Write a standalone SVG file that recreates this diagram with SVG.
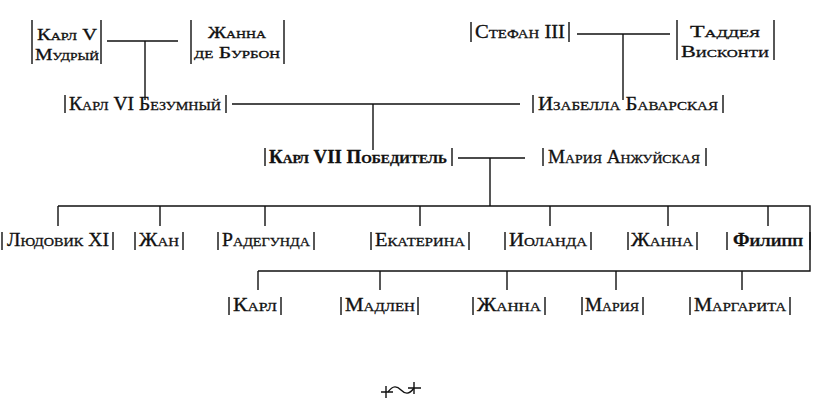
<svg xmlns="http://www.w3.org/2000/svg" width="818" height="403" viewBox="0 0 818 403">
<style>
text{font-family:"Liberation Serif","DejaVu Serif",serif;font-size:18px;font-variant:small-caps;fill:#111;text-anchor:middle;stroke:#111;stroke-width:0.3}
.s{font-size:16px}
.b{font-weight:bold}
line,path{stroke:#111;stroke-width:1.4;fill:none}
</style>
<rect width="818" height="403" fill="#fff"/>
<g id="connectors">
<path d="M107 41H178M145 41V100"/>
<path d="M232 104H520M373 104V150"/>
<path d="M577 34H670M623 34V100"/>
<path d="M458 158H525M490 158V206"/>
<path d="M58 206H810V271H258M58 206V226M160 206V226M265 206V226M420 206V226M550 206V226M668 206V226M768 206V226M810 206V230"/>
<path d="M258 271V290M380 271V290M507 271V290M616 271V290M742 271V290"/>
</g>
<g id="karl5"><path d="M32 20V64M101 20V64"/><text class="s" x="67" y="40" textLength="60" lengthAdjust="spacingAndGlyphs">Карл V</text><text class="s" x="67" y="60" textLength="64" lengthAdjust="spacingAndGlyphs">Мудрый</text></g>
<g id="zhanna-bourbon"><path d="M191 20V64M284 20V64"/><text class="s" x="237" y="38" textLength="58" lengthAdjust="spacingAndGlyphs">Жанна</text><text class="s" x="237" y="58" textLength="86" lengthAdjust="spacingAndGlyphs">де Бурбон</text></g>
<g id="stefan3"><path d="M471 22V42M569 22V42"/><text x="520" y="38" textLength="90" lengthAdjust="spacingAndGlyphs">Стефан III</text></g>
<g id="taddea"><path d="M677 20V60M774 20V60"/><text class="s" x="725" y="37" textLength="70" lengthAdjust="spacingAndGlyphs">Таддея</text><text class="s" x="725" y="57" textLength="88" lengthAdjust="spacingAndGlyphs">Висконти</text></g>
<g id="karl6"><path d="M65 95V113M226 95V113"/><text x="145" y="110" textLength="152" lengthAdjust="spacingAndGlyphs">Карл VI Безумный</text></g>
<g id="isabella"><path d="M533 95V113M723 95V113"/><text x="628" y="110" textLength="180" lengthAdjust="spacingAndGlyphs">Изабелла Баварская</text></g>
<g id="karl7"><path d="M265 148V166M452 148V166"/><text class="b" x="358" y="163" textLength="178" lengthAdjust="spacingAndGlyphs">Карл VII Победитель</text></g>
<g id="maria-anjou"><path d="M543 148V166M706 148V166"/><text x="624" y="163" textLength="152" lengthAdjust="spacingAndGlyphs">Мария Анжуйская</text></g>
<g id="ludovic"><path d="M2 232V250M113 232V250"/><text x="58" y="246" textLength="102" lengthAdjust="spacingAndGlyphs">Людовик XI</text></g>
<g id="jean"><path d="M135 232V250M183 232V250"/><text x="159" y="246" textLength="40" lengthAdjust="spacingAndGlyphs">Жан</text></g>
<g id="radegonde"><path d="M218 232V250M314 232V250"/><text x="266" y="246" textLength="88" lengthAdjust="spacingAndGlyphs">Радегунда</text></g>
<g id="catherine"><path d="M371 232V250M469 232V250"/><text x="420" y="246" textLength="90" lengthAdjust="spacingAndGlyphs">Екатерина</text></g>
<g id="yolande"><path d="M505 232V250M591 232V250"/><text x="548" y="246" textLength="78" lengthAdjust="spacingAndGlyphs">Иоланда</text></g>
<g id="jeanne1"><path d="M628 232V250M697 232V250"/><text x="662" y="246" textLength="62" lengthAdjust="spacingAndGlyphs">Жанна</text></g>
<g id="philippe"><path d="M727 232V250M810 232V250"/><text class="b" x="768" y="246" textLength="70" lengthAdjust="spacingAndGlyphs">Филипп</text></g>
<g id="charles"><path d="M229 297V315M281 297V315"/><text x="255" y="311" textLength="44" lengthAdjust="spacingAndGlyphs">Карл</text></g>
<g id="madeleine"><path d="M341 297V315M418 297V315"/><text x="380" y="311" textLength="70" lengthAdjust="spacingAndGlyphs">Мадлен</text></g>
<g id="jeanne2"><path d="M473 297V315M545 297V315"/><text x="509" y="311" textLength="64" lengthAdjust="spacingAndGlyphs">Жанна</text></g>
<g id="marie"><path d="M582 297V315M643 297V315"/><text x="612" y="311" textLength="54" lengthAdjust="spacingAndGlyphs">Мария</text></g>
<g id="marguerite"><path d="M690 297V315M790 297V315"/><text x="740" y="311" textLength="92" lengthAdjust="spacingAndGlyphs">Маргарита</text></g>
<g id="ornament"><path d="M388 392C393 385 397 386 401 390C405 394 409 395 414 388" stroke-width="3"/><path d="M381 392H393M386 386V398M408 388H421M414 382V394" stroke-width="2.6"/></g>
</svg>
